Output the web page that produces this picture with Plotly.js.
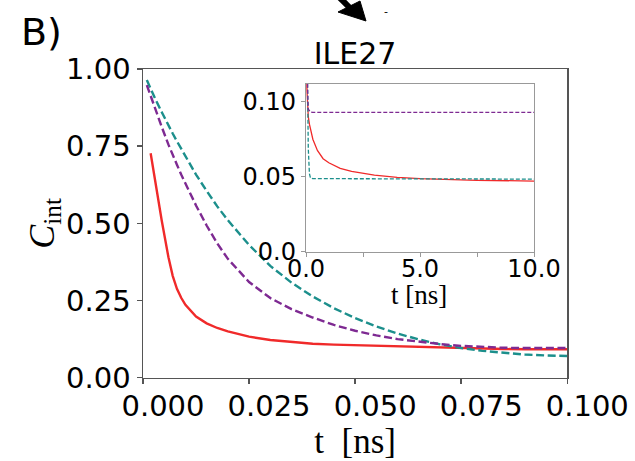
<!DOCTYPE html>
<html>
<head>
<meta charset="utf-8">
<script src="https://cdn.plot.ly/plotly-3.0.1.min.js"></script>
<style>html,body{margin:0;padding:0;background:#fff;}#chart{width:635px;height:461px;}</style>
</head>
<body>
<div id="chart"></div>
<script>
// time grid [ns]
const t = [0.0009, 0.0018, 0.003, 0.0044, 0.006, 0.007, 0.008, 0.009, 0.010, 0.0125, 0.015, 0.0175, 0.020, 0.025, 0.030, 0.035, 0.040, 0.045, 0.050, 0.055, 0.060, 0.065, 0.070, 0.075, 0.080, 0.085, 0.090, 0.095, 0.100,
           0.15, 0.2, 0.3, 0.5, 0.75, 1.0, 1.5, 2.0, 2.5, 3.0, 4.0, 5.0, 7.5, 10.0];
const redSeries = [null, 0.727, 0.625, 0.51, 0.39, 0.330, 0.288, 0.259, 0.236, 0.198, 0.176, 0.161, 0.150, 0.133, 0.122, 0.115, 0.110, 0.107, 0.105, 0.103, 0.101, 0.099, 0.097, 0.095, 0.094, 0.093, 0.092, 0.091, 0.090,
           0.085, 0.081, 0.075, 0.0675, 0.062, 0.0593, 0.0555, 0.0535, 0.0523, 0.051, 0.0496, 0.0487, 0.0476, 0.0471];
const purpleSeries = [0.948, 0.912, 0.866, 0.813, 0.755, 0.72, 0.69, 0.658, 0.628, 0.558, 0.493, 0.435, 0.385, 0.31, 0.258, 0.222, 0.195, 0.171, 0.152, 0.137, 0.125, 0.116, 0.109, 0.103, 0.099, 0.097, 0.096, 0.095, 0.095,
           0.094, 0.093, 0.0929, 0.0929, 0.0929, 0.0929, 0.0929, 0.0929, 0.0929, 0.0929, 0.0929, 0.0929, 0.0929, 0.0929];
const tealSeries = [0.964, 0.935, 0.90, 0.861, 0.816, 0.791, 0.766, 0.741, 0.716, 0.658, 0.605, 0.555, 0.51, 0.43, 0.362, 0.308, 0.263, 0.225, 0.193, 0.166, 0.143, 0.124, 0.108, 0.096, 0.087, 0.080, 0.075, 0.072, 0.069,
           0.052, 0.049, 0.0487, 0.0487, 0.0487, 0.0487, 0.0486, 0.0486, 0.0486, 0.0485, 0.0485, 0.0485, 0.0484, 0.0484];

const mainXTicks = [0, 0.025, 0.05, 0.075, 0.1];
const mainYTicks = [0, 0.25, 0.5, 0.75, 1.0];
const insetXTicks = [0, 2.5, 5, 7.5, 10];
const insetXLabels = ['0.0', '', '5.0', '', '10.0'];
const insetYTicks = [0, 0.05, 0.10];
const insetYLabels = ['0.0', '0.05', '0.10'];

const RED = '#f02a2a', PURPLE = '#7e2a92', TEAL = '#1c8f8c';

function line(y, color, dash, w, xa, ya) {
  return {x: t, y: y, type: 'scatter', mode: 'lines', xaxis: xa, yaxis: ya,
          line: {color: color, width: w, dash: dash}, hoverinfo: 'skip', connectgaps: false};
}
const traces = [
  line(redSeries, RED, 'solid', 2.4, 'x', 'y'),
  line(tealSeries, TEAL, '8px,3.6px', 2.4, 'x', 'y'),
  line(purpleSeries, PURPLE, '8px,3.6px', 2.4, 'x', 'y'),
  line(redSeries, RED, 'solid', 1.3, 'x2', 'y2'),
  line(tealSeries, TEAL, '4px,2px', 1.3, 'x2', 'y2'),
  line(purpleSeries, PURPLE, '4px,2px', 1.3, 'x2', 'y2')
];

const W = 635, H = 461;
const px = v => v / W, py = v => 1 - v / H;
const tickFont = {family: 'DejaVu Sans', size: 29, color: '#000'};
const insetTickFont = {family: 'DejaVu Sans', size: 24, color: '#000'};

const layout = {
  width: W, height: H,
  margin: {l: 0, r: 0, t: 0, b: 0},
  paper_bgcolor: '#fff', plot_bgcolor: '#fff',
  showlegend: false,
  title: {text: 'ILE27', font: {family: 'DejaVu Sans', size: 30, color: '#000'},
          x: px(355), xanchor: 'center', xref: 'paper', y: py(53), yanchor: 'middle', yref: 'paper'},
  xaxis: {domain: [px(143), px(567.3)], range: [0, 0.1], anchor: 'y',
          tickvals: mainXTicks, tickformat: '.3f', ticks: 'outside', ticklen: 5, tickwidth: 1.5, tickcolor: '#555',
          showline: true, linecolor: '#555', linewidth: 1.5, mirror: true, showgrid: false, zeroline: false,
          tickfont: tickFont, ticklabelshift: 20, ticklabelstandoff: -3,
          title: {text: 't&nbsp;&nbsp;[ns]', font: {family: 'Liberation Serif', size: 35, color: '#000'}, standoff: 0}},
  yaxis: {domain: [py(377.7), py(69)], range: [0, 1], anchor: 'x',
          tickvals: mainYTicks, tickformat: '.2f', ticks: 'outside', ticklen: 5, tickwidth: 1.5, tickcolor: '#555',
          showline: true, linecolor: '#555', linewidth: 1.5, mirror: true, showgrid: false, zeroline: false,
          tickfont: tickFont,
          title: {text: '<i>C</i><sub>int</sub>', font: {family: 'Liberation Serif', size: 36, color: '#000'}, standoff: 0}},
  xaxis2: {domain: [px(306), px(534)], range: [0, 10], anchor: 'y2',
          tickvals: insetXTicks, ticktext: insetXLabels, ticks: 'outside', ticklen: 4, tickwidth: 1, tickcolor: '#999',
          showline: true, linecolor: '#999', linewidth: 1.2, mirror: true, showgrid: false, zeroline: false,
          tickfont: insetTickFont, ticklabelstandoff: -9},
  yaxis2: {domain: [py(251.7), py(84)], range: [0, 0.1118], anchor: 'x2',
          tickvals: insetYTicks, ticktext: insetYLabels, ticks: 'outside', ticklen: 4, tickwidth: 1, tickcolor: '#999',
          showline: true, linecolor: '#999', linewidth: 1.2, mirror: true, showgrid: false, zeroline: false,
          tickfont: insetTickFont},
  annotations: [
    {text: 'B)', xref: 'paper', yref: 'paper', x: px(19), y: py(32), xanchor: 'left', yanchor: 'middle',
     showarrow: false, font: {family: 'DejaVu Sans', size: 38, color: '#000'}},
    {text: 't&nbsp;[ns]', xref: 'paper', yref: 'paper', x: px(419), y: py(295), xanchor: 'center', yanchor: 'middle',
     showarrow: false, font: {family: 'Liberation Serif', size: 27, color: '#000'}},
    {text: '-', xref: 'paper', yref: 'paper', x: px(386), y: py(12), xanchor: 'center', yanchor: 'middle',
     showarrow: false, font: {family: 'DejaVu Sans', size: 11, color: '#000'}}
  ],
  shapes: [
    {type: 'line', xref: 'paper', yref: 'paper', x0: px(334), y0: py(-8), x1: px(350), y1: py(8),
     line: {color: '#000', width: 6}},
    {type: 'path', xref: 'paper', yref: 'paper',
     path: `M ${px(338)} ${py(12)} L ${px(360)} ${py(1)} L ${px(366)} ${py(21)} Z`,
     fillcolor: '#000', line: {color: '#000', width: 1}}
  ]
};

Plotly.newPlot('chart', traces, layout, {staticPlot: true, displayModeBar: false});
</script>
</body>
</html>
